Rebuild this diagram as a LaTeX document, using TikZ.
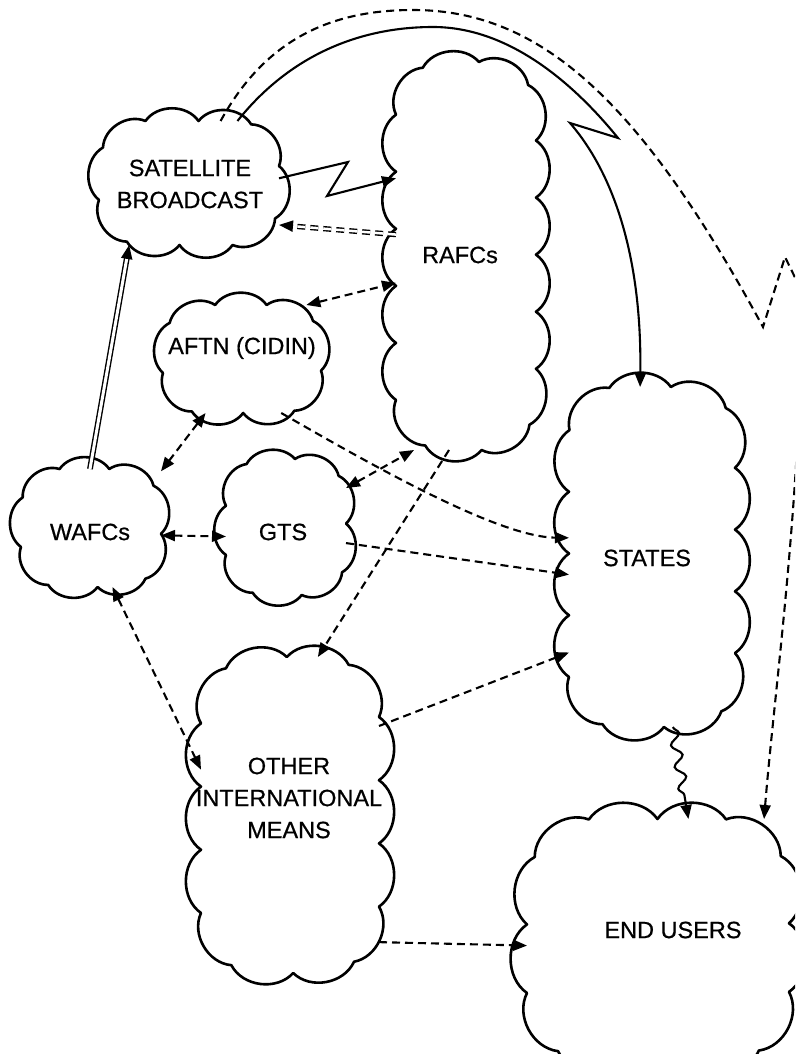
\documentclass[tikz,border=0pt]{standalone}
\usepackage{fontspec}
\setmainfont{Liberation Sans}
\newfontfamily\lblfont{Liberation Sans}[FakeBold=0.6]
\usetikzlibrary{arrows.meta,decorations.pathmorphing,decorations.markings,calc}
\newcommand\puffy[4]{% #1 node name, #2 number of puffs, #3 corner radius, #4 bend
  \path[decorate, decoration={markings, mark=between positions 0 and 1 step {1/#2} with {\coordinate (#1-p\pgfkeysvalueof{/pgf/decoration/mark info/sequence number});}}]
    (#1.south west) [rounded corners=#3] rectangle (#1.north east);
  \draw[cloudline] (#1-p1) \foreach \i in {2,...,#2} { to[bend left=#4] (#1-p\i) } to[bend left=#4] (#1-p1);
}
\begin{document}
\begin{tikzpicture}[x=1pt,y=-1pt,
  hub/.style={rectangle, inner sep=0pt, outer sep=6pt},
  cloudline/.style={line width=2.6pt, line join=round, line cap=round},
  lbl/.style={font=\lblfont\fontsize{23.5}{32}\selectfont, align=center, inner sep=0pt},
  sol/.style={line width=2.1pt},
  dsh/.style={line width=2.1pt, dash pattern=on 8pt off 5pt},
  tip/.style={-{Triangle[length=14pt,width=11pt]}},
  tiptwo/.style={{Triangle[length=14pt,width=11pt]}-{Triangle[length=14pt,width=11pt]}}
]
\useasboundingbox (0,0) rectangle (795,1054);
\begin{scope}
\clip (0,0) rectangle (795,1054);
% cloud anchors (invisible)
\node[hub, minimum width=168pt, minimum height=112pt] (sat) at (189,183) {};
\node[hub, minimum width=128pt, minimum height=376pt] (rafcs) at (466,256) {};
\node[hub, minimum width=146pt, minimum height=96pt] (aftn) at (242,359) {};
\node[hub, minimum width=128pt, minimum height=106pt] (wafcs) at (91,528) {};
\node[hub, minimum width=108pt, minimum height=124pt] (gts) at (286,527) {};
\node[hub, minimum width=154pt, minimum height=328pt] (states) at (652,557) {};
\node[hub, minimum width=166pt, minimum height=304pt] (other) at (290,815) {};
\node[hub, minimum width=250pt, minimum height=232pt] (endu) at (658,941) {};
% cloud outlines
\puffy{sat}{10}{45}{55}
\puffy{rafcs}{17}{50}{55}
\puffy{aftn}{9}{40}{55}
\puffy{wafcs}{9}{40}{55}
\puffy{gts}{9}{40}{55}
\puffy{states}{15}{50}{55}
\puffy{other}{14}{60}{55}
\puffy{endu}{13}{70}{55}
% texts
\node[lbl] (sat-t) at (190,184) {SATELLITE\\BROADCAST};
\node[lbl] (rafcs-t) at (460,255) {RAFCs};
\node[lbl] (aftn-t) at (242,348) {AFTN (CIDIN)};
\node[lbl] (wafcs-t) at (90,532) {WAFCs};
\node[lbl] (gts-t) at (283,532) {GTS};
\node[lbl] (states-t) at (647,558) {STATES};
\node[lbl] (other-t) at (289,798) {OTHER\\INTERNATIONAL\\MEANS};
\node[lbl] (endu-t) at (673,930) {END USERS};
% lightning satellite -> RAFCs
\draw[sol, tip] (sat.3) -- (348,162) -- (327,196) -- (rafcs.132);
% double dashed RAFCs -> satellite
\draw[line width=1.4pt, dash pattern=on 8pt off 5pt, double, double distance=2.5pt, shorten >=12pt] (rafcs.163) -- (sat.-25);
\draw[sol, tip] ($(sat.-25)!14pt!(rafcs.163)$) -- (sat.-25);
% double solid WAFCs -> satellite
\draw[line width=1.4pt, double, double distance=3pt, shorten >=12pt] (wafcs.91) -- (sat.226);
\draw[sol, tip] ($(sat.226)!14pt!(wafcs.91)$) -- (sat.226);
% solid arc satellite -> states
\draw[sol, tip] (sat.52) .. controls (290,55) and (360,27) .. (433,27)
  .. controls (510,27) and (575,85) .. (618,138) -- (570,123)
  .. controls (615,175) and (642,260) .. (states.94);
% dashed arc satellite -> end users
\draw[dsh, tip] (sat.63) .. controls (265,40) and (330,10) .. (413,10)
  .. controls (540,10) and (640,100) .. (763,327) -- (785,257) -- (806,300) -- (797,450)
  .. controls (788,600) and (772,720) .. (endu.49);
% dashed links
\draw[dsh, tiptwo] (aftn.40) -- (rafcs.201);
\draw[dsh, tiptwo] (aftn.236) -- (wafcs.39);
\draw[dsh, tiptwo] (wafcs.-6) -- (gts.189);
\draw[dsh, tiptwo] (gts.33) -- (rafcs.255);
\draw[dsh, tip] (aftn.-54) .. controls (380,470) and (500,537) .. (states.167);
\draw[dsh, tip] (gts.-15) -- (states.192);
\draw[dsh, tip] (rafcs.265) -- (other.80);
\draw[dsh, tiptwo] (wafcs.290) -- (other.153);
\draw[dsh, tip] (other.45) -- (states.229);
\draw[dsh, tip] (other.-55) -- (endu.182);
% wavy states -> end users
\draw[sol, tip, decorate, decoration={snake, segment length=22pt, amplitude=5pt, post length=14pt}] (states.277) -- (endu.76);
\end{scope}
\end{tikzpicture}
\end{document}
